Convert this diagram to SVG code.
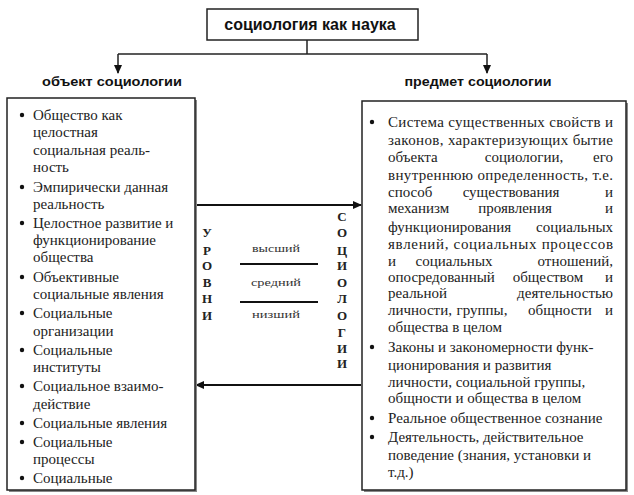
<svg xmlns="http://www.w3.org/2000/svg" width="634" height="495" viewBox="0 0 634 495">
<style>
.box{fill:#fff;stroke:#222;stroke-width:1.5}
.shadow{fill:#888}
.ln{stroke:#222;stroke-width:1.5;fill:none}
.thick{stroke:#111;stroke-width:2.2;fill:none}
.t{font-family:"Liberation Serif","Times New Roman","DejaVu Serif",serif;font-size:15px;fill:#222}
.e{text-anchor:end}
.m{text-anchor:middle}
.h{font-family:"Liberation Sans",Arial,sans-serif;font-weight:bold;fill:#111}
.v{font-family:"Liberation Serif","Times New Roman",serif;font-weight:bold;font-size:13px;fill:#222;text-anchor:middle}
.s{font-family:"Liberation Serif","Times New Roman",serif;font-size:11px;fill:#333;text-anchor:middle}
.b{fill:#111}
</style>
<defs>
<marker id="ah" markerWidth="10" markerHeight="10" refX="8" refY="5" orient="auto" markerUnits="userSpaceOnUse">
<path d="M0,1 L9,5 L0,9 Z" fill="#111"/>
</marker>
</defs>
<rect width="634" height="495" fill="#fff"/>

<g id="connectors">
<line class="ln" x1="307" y1="40" x2="307" y2="54"/>
<line class="ln" x1="118" y1="54" x2="487" y2="54"/>
<line class="ln" x1="118" y1="54" x2="118" y2="73" marker-end="url(#ah)"/>
<line class="ln" x1="487" y1="54" x2="487" y2="73" marker-end="url(#ah)"/>
<line class="thick" x1="196" y1="205" x2="361" y2="205" marker-end="url(#ah)"/>
<line class="thick" x1="361" y1="385" x2="196" y2="385" marker-end="url(#ah)"/>
</g>

<g id="title">
<rect class="box" x="207" y="9" width="211" height="31"/>
<text class="h" x="310" y="30" font-size="16" text-anchor="middle">социология как наука</text>
</g>

<g id="label-object">
<text class="h" x="112" y="86" font-size="13" text-anchor="middle" textLength="140" lengthAdjust="spacingAndGlyphs">объект социологии</text>
</g>
<g id="label-subject">
<text class="h" x="478" y="86" font-size="13" text-anchor="middle" textLength="147" lengthAdjust="spacingAndGlyphs">предмет социологии</text>
</g>

<g id="object-box">
<rect class="shadow" x="9" y="100" width="188" height="392"/>
<rect class="box" x="7" y="98" width="188" height="392"/>
<circle class="b" cx="22" cy="115" r="2.2"/>
<circle class="b" cx="22" cy="187" r="2.2"/>
<circle class="b" cx="22" cy="223" r="2.2"/>
<circle class="b" cx="22" cy="277" r="2.2"/>
<circle class="b" cx="22" cy="313" r="2.2"/>
<circle class="b" cx="22" cy="350" r="2.2"/>
<circle class="b" cx="22" cy="386" r="2.2"/>
<circle class="b" cx="22" cy="423" r="2.2"/>
<circle class="b" cx="22" cy="442" r="2.2"/>
<circle class="b" cx="22" cy="478" r="2.2"/>
<text class="t" x="33" y="120">Общество как</text>
<text class="t" x="33" y="137">целостная</text>
<text class="t" x="33" y="155">социальная реаль-</text>
<text class="t" x="33" y="172">ность</text>
<text class="t" x="33" y="192">Эмпирически данная</text>
<text class="t" x="33" y="209">реальность</text>
<text class="t" x="33" y="228">Целостное развитие и</text>
<text class="t" x="33" y="245">функционирование</text>
<text class="t" x="33" y="262">общества</text>
<text class="t" x="33" y="282">Объективные</text>
<text class="t" x="33" y="299">социальные явления</text>
<text class="t" x="33" y="318">Социальные</text>
<text class="t" x="33" y="336">организации</text>
<text class="t" x="33" y="355">Социальные</text>
<text class="t" x="33" y="372">институты</text>
<text class="t" x="33" y="391">Социальное взаимо-</text>
<text class="t" x="33" y="409">действие</text>
<text class="t" x="33" y="428">Социальные явления</text>
<text class="t" x="33" y="447">Социальные</text>
<text class="t" x="33" y="464">процессы</text>
<text class="t" x="33" y="483">Социальные</text>
</g>

<g id="subject-box">
<rect class="shadow" x="364" y="103" width="264" height="389"/>
<rect class="box" x="362" y="101" width="264" height="389"/>
<circle class="b" cx="372" cy="122" r="2.2"/>
<circle class="b" cx="372" cy="347" r="2.2"/>
<circle class="b" cx="372" cy="418" r="2.2"/>
<circle class="b" cx="372" cy="437" r="2.2"/>
<text class="t" x="388" y="127" textLength="225" lengthAdjust="spacing">Система существенных свойств и</text>
<text class="t" x="388" y="145" textLength="225" lengthAdjust="spacing">законов, характеризующих бытие</text>
<text class="t" x="388" y="162">объекта</text><text class="t m" x="524" y="162">социологии,</text><text class="t e" x="613" y="162">его</text>
<text class="t" x="388" y="180" textLength="225" lengthAdjust="spacing">внутреннюю определенность, т.е.</text>
<text class="t" x="388" y="197">способ</text><text class="t m" x="511" y="197">существования</text><text class="t e" x="613" y="197">и</text>
<text class="t" x="388" y="213">механизм</text><text class="t m" x="515" y="213">проявления</text><text class="t e" x="613" y="213">и</text>
<text class="t" x="388" y="232">функционирования</text><text class="t e" x="613" y="232">социальных</text>
<text class="t" x="388" y="249" textLength="225" lengthAdjust="spacing">явлений, социальных процессов</text>
<text class="t" x="388" y="266">и</text><text class="t m" x="454" y="266">социальных</text><text class="t e" x="613" y="266">отношений,</text>
<text class="t" x="388" y="282">опосредованный</text><text class="t m" x="548" y="282">обществом</text><text class="t e" x="613" y="282">и</text>
<text class="t" x="388" y="298">реальной</text><text class="t e" x="613" y="298">деятельностью</text>
<text class="t" x="388" y="315">личности,</text><text class="t m" x="482" y="315">группы,</text><text class="t m" x="560" y="315">общности</text><text class="t e" x="613" y="315">и</text>
<text class="t" x="388" y="332">общества в целом</text>
<text class="t" x="388" y="352">Законы и закономерности функ-</text>
<text class="t" x="388" y="370">ционирования и развития</text>
<text class="t" x="388" y="387">личности, социальной группы,</text>
<text class="t" x="388" y="403">общности и общества в целом</text>
<text class="t" x="388" y="423">Реальное общественное сознание</text>
<text class="t" x="388" y="442">Деятельность, действительное</text>
<text class="t" x="388" y="460">поведение (знания, установки и</text>
<text class="t" x="388" y="477">т.д.)</text>
</g>

<g id="levels">
<text class="v" x="207" y="237">У</text>
<text class="v" x="207" y="255">Р</text>
<text class="v" x="207" y="270">О</text>
<text class="v" x="207" y="287">В</text>
<text class="v" x="207" y="303">Н</text>
<text class="v" x="207" y="320">И</text>
<text class="s" x="276" y="252" textLength="48" lengthAdjust="spacingAndGlyphs">высший</text>
<line class="thick" x1="240" y1="264" x2="318" y2="264"/>
<text class="s" x="276" y="286" textLength="50" lengthAdjust="spacingAndGlyphs">средний</text>
<line class="thick" x1="240" y1="302" x2="318" y2="302"/>
<text class="s" x="276" y="318" textLength="48" lengthAdjust="spacingAndGlyphs">низший</text>
</g>

<g id="sociology-vertical">
<text class="v" x="342" y="221">С</text>
<text class="v" x="342" y="237">О</text>
<text class="v" x="342" y="255">Ц</text>
<text class="v" x="342" y="270">И</text>
<text class="v" x="342" y="287">О</text>
<text class="v" x="342" y="303">Л</text>
<text class="v" x="342" y="320">О</text>
<text class="v" x="342" y="337">Г</text>
<text class="v" x="342" y="353">И</text>
<text class="v" x="342" y="368">И</text>
</g>
</svg>
